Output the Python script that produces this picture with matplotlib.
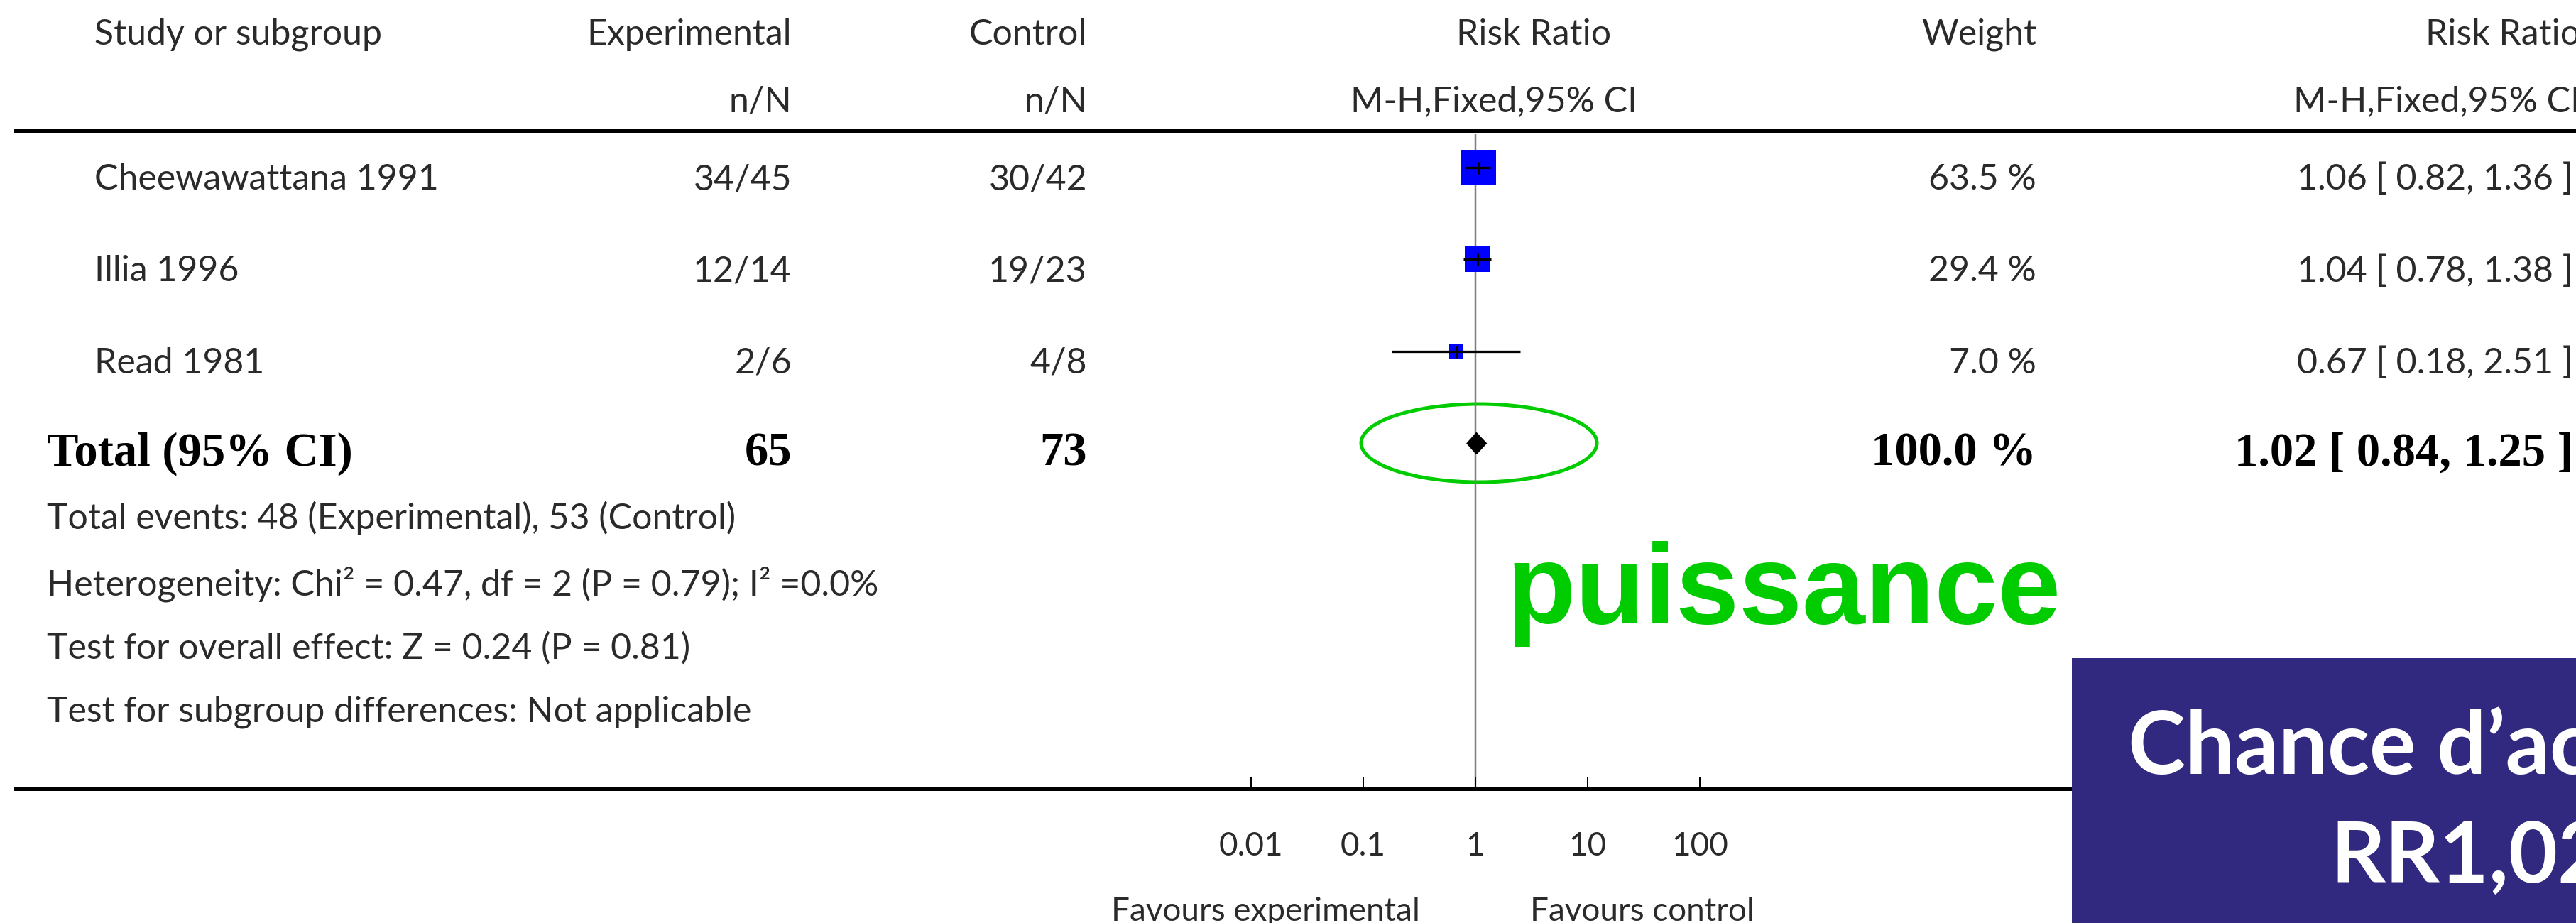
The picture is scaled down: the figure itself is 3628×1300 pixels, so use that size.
import numpy as np
import matplotlib
matplotlib.use("Agg")
import matplotlib.pyplot as plt
from matplotlib.patches import Ellipse, Rectangle

# ---------------- data ----------------
studies = ["Cheewawattana 1991", "Illia 1996", "Read 1981"]
exp_events = [34, 12, 2]
exp_total = [45, 14, 6]
ctrl_events = [30, 19, 4]
ctrl_total = [42, 23, 8]
rr = [1.06, 1.04, 0.67]
ci_lo = [0.82, 0.78, 0.18]
ci_hi = [1.36, 1.38, 2.51]
weights = [63.5, 29.4, 7.0]

total_label = "Total (95% CI)"
total_exp = 65
total_ctrl = 73
total_rr = 1.02
total_lo = 0.84
total_hi = 1.25
total_weight = 100.0

footnotes = [
    "Total events: 48 (Experimental), 53 (Control)",
    "Heterogeneity: Chi\u00b2 = 0.47, df = 2 (P = 0.79); I\u00b2 =0.0%",
    "Test for overall effect: Z = 0.24 (P = 0.81)",
    "Test for subgroup differences: Not applicable",
]

header1 = ["Study or subgroup", "Experimental", "Control", "Risk Ratio", "Weight", "Risk Ratio"]
header2 = ["n/N", "n/N", "M-H,Fixed,95% CI", "M-H,Fixed,95% CI"]

tick_values = [0.01, 0.1, 1, 10, 100]
tick_labels = ["0.01", "0.1", "1", "10", "100"]
favours = ["Favours experimental", "Favours control"]

annotation = "puissance"
box_lines = ["Chance d\u2019ac", "RR1,02"]

# ---------------- layout ----------------
W, H = 3628, 1300
DPI = 100
PT = 72.0 / DPI  # points per pixel

fig = plt.figure(figsize=(W / DPI, H / DPI), dpi=DPI)
fig.patch.set_facecolor("white")

ov = fig.add_axes([0, 0, 1, 1])
ov.set_xlim(0, W)
ov.set_ylim(H, 0)
ov.axis("off")

TXT = "#2a2a2a"
REG = dict(family="Lato", fontsize=36, color=TXT)
SER = dict(family="Liberation Serif", fontsize=48, weight="bold", color="black")

x_study = 133
x_left = 66
x_exp = 1115
x_ctrl = 1531
x_rrh1 = 2160
x_rrh2 = 2104
x_w = 2868
x_rr = 3624
x_rrhead = 3634

# headers
y_h1, y_h2 = 63, 157
ov.text(x_study, y_h1, header1[0], ha="left", va="baseline", **REG)
ov.text(x_exp, y_h1, header1[1], ha="right", va="baseline", **REG)
ov.text(x_ctrl, y_h1, header1[2], ha="right", va="baseline", **REG)
ov.text(x_rrh1, y_h1, header1[3], ha="center", va="baseline", **REG)
ov.text(x_w, y_h1, header1[4], ha="right", va="baseline", **REG)
ov.text(x_rrhead, y_h1, header1[5], ha="right", va="baseline", **REG)
ov.text(x_exp, y_h2, header2[0], ha="right", va="baseline", **REG)
ov.text(x_ctrl, y_h2, header2[1], ha="right", va="baseline", **REG)
ov.text(x_rrh2, y_h2, header2[2], ha="center", va="baseline", **REG)
ov.text(x_rrhead, y_h2, header2[3], ha="right", va="baseline", **REG)

# rules
ov.plot([20, W], [185, 185], color="black", lw=6 * PT, solid_capstyle="butt")
ov.plot([20, 2918], [1111, 1111], color="black", lw=6 * PT, solid_capstyle="butt")

# rows
row_base0 = 267
row_step = 129.5
mark_off = 31
row_base = [row_base0 + i * row_step for i in range(len(studies))]
total_base = row_base0 + len(studies) * row_step

for i, s in enumerate(studies):
    yb = row_base[i]
    ov.text(x_study, yb, s, ha="left", va="baseline", **REG)
    ov.text(x_exp, yb, f"{exp_events[i]}/{exp_total[i]}", ha="right", va="baseline", **REG)
    ov.text(x_ctrl, yb, f"{ctrl_events[i]}/{ctrl_total[i]}", ha="right", va="baseline", **REG)
    ov.text(x_w, yb, f"{weights[i]:.1f} %", ha="right", va="baseline", **REG)
    ov.text(x_rr, yb, f"{rr[i]:.2f} [ {ci_lo[i]:.2f}, {ci_hi[i]:.2f} ]", ha="right", va="baseline", **REG)

ov.text(x_left, total_base, total_label, ha="left", va="baseline", **SER)
ov.text(x_exp, total_base, f"{total_exp}", ha="right", va="baseline", **SER)
ov.text(x_ctrl, total_base, f"{total_ctrl}", ha="right", va="baseline", **SER)
ov.text(x_w, total_base, f"{total_weight:.1f} %", ha="right", va="baseline", **SER)
ov.text(x_rr, total_base, f"{total_rr:.2f} [ {total_lo:.2f}, {total_hi:.2f} ]", ha="right", va="baseline", **SER)

foot_base = [745, 838, 928, 1017]
for t, yb in zip(footnotes, foot_base):
    ov.text(x_left, yb, t, ha="left", va="baseline", **REG)

# favours labels
ov.text(2000, 1297, favours[0], ha="right", va="baseline", family="Lato", fontsize=33, color=TXT)
ov.text(2155, 1297, favours[1], ha="left", va="baseline", family="Lato", fontsize=33, color=TXT)

# highlight ellipse and annotation
GREEN = "#00CC00"
ov.add_patch(Ellipse((2083, 624), 332, 110, fill=False, edgecolor=GREEN, lw=5 * PT, zorder=5))
ov.text(2122, 878, annotation, ha="left", va="baseline", family="Liberation Sans",
        weight="bold", fontsize=115, color=GREEN)

# purple box
ov.add_patch(Rectangle((2918, 927), W - 2918 + 10, H - 927 + 10, facecolor="#31287F",
                       edgecolor="none", zorder=6))
ov.text(2997, 1090, box_lines[0], ha="left", va="baseline", family="Lato", weight="bold",
        fontsize=88, color="white", zorder=7)
ov.text(3282, 1243, box_lines[1], ha="left", va="baseline", family="Lato", weight="bold",
        fontsize=86, color="white", zorder=7)

# ---------------- forest axes ----------------
x001, x100 = 1762, 2394
y_top, y_bot = 189, 1108
ax = fig.add_axes([x001 / W, (H - y_bot) / H, (x100 - x001) / W, (y_bot - y_top) / H])
ax.set_facecolor("none")
ax.set_xscale("log")
ax.set_xlim(tick_values[0], tick_values[-1])
ax.set_ylim(y_bot, y_top)
for sp in ax.spines.values():
    sp.set_visible(False)
ax.set_yticks([])
ax.set_xticks(tick_values)
ax.set_xticklabels(tick_labels, family="Lato", fontsize=33, color=TXT)
ax.minorticks_off()
ax.tick_params(axis="x", which="major", direction="in", length=14 * PT, width=2 * PT,
               color="black", pad=63 * PT)

ax.axvline(1, color="#808080", lw=2.5 * PT, zorder=1)

for i in range(len(studies)):
    y = row_base[i] - mark_off
    side_px = 5 + 5.64 * np.sqrt(weights[i])
    ax.plot([rr[i]], [y], marker="s", markersize=side_px * PT, color="#0000FF",
            markeredgewidth=0, linestyle="none", zorder=2, clip_on=False)
    ax.hlines(y, ci_lo[i], ci_hi[i], color="black", lw=3.3 * PT, zorder=3)
    ax.plot([rr[i]], [y], marker="|", markersize=17 * PT, markeredgewidth=3 * PT,
            color="black", linestyle="none", zorder=3)

yt = total_base - mark_off
dh = 15
ax.fill([total_lo, total_rr, total_hi, total_rr], [yt, yt - dh, yt, yt + dh],
        color="black", zorder=3, clip_on=False)

fig.savefig("out.png", dpi=DPI, facecolor="white")
